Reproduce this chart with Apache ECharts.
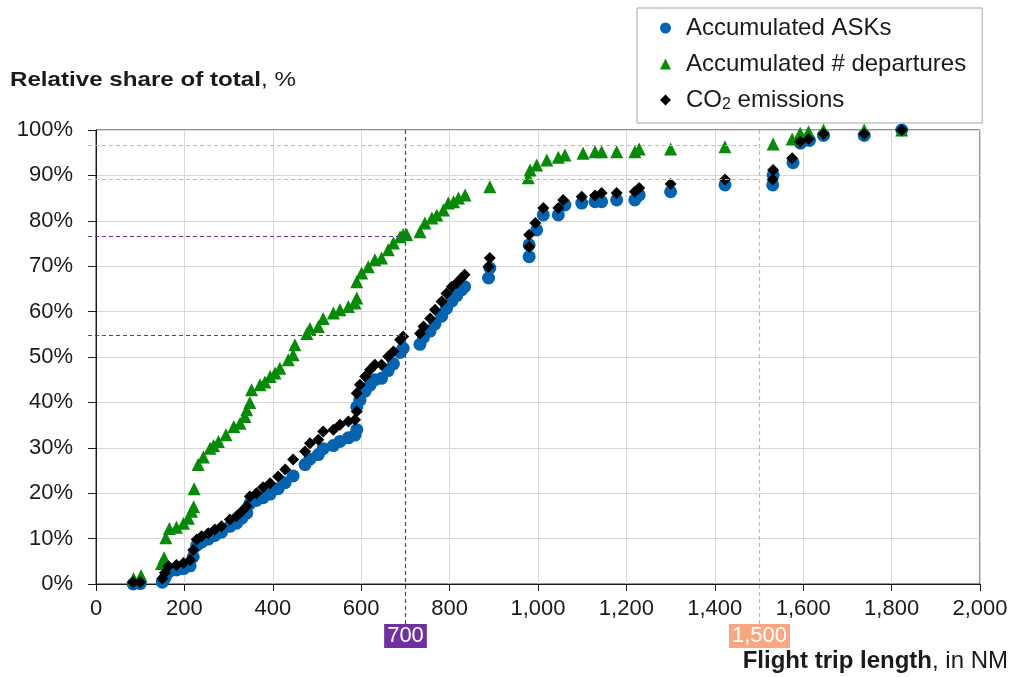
<!DOCTYPE html>
<html>
<head>
<meta charset="utf-8">
<script src="https://cdn.jsdelivr.net/npm/echarts@6/dist/echarts.min.js"></script>
<style>html,body{margin:0;padding:0;background:#fff}#c{width:1013px;height:677px}</style>
</head>
<body>
<div id="c"></div>
<script>
// Accumulated # departures [trip length NM, % of total]
const departures = [[85,1.2],[102,1.8],[148,4.5],[154,5.8],[158,10.2],[166,12.2],[182,12.5],[198,13.4],[209,14.5],[216,16],[221,17],[222,21],[231,26.3],[243,28],[258,29.9],[266,30.5],[277,31.4],[294,32.9],[312,34.7],[326,35.4],[337,36.9],[341,38.4],[348,40],[352,42.8],[371,43.9],[382,44.5],[394,45.7],[405,46.5],[416,47.5],[435,49.4],[446,50.5],[450,52.7],[477,55.2],[484,56.3],[503,56.7],[514,58.5],[537,59.7],[552,60.4],[571,61.1],[586,61.9],[590,63],[590,66.6],[601,68.5],[616,69.9],[631,71.4],[646,71.8],[661,73.6],[673,75.1],[688,76.5],[695,77],[703,77],[733,77.6],[744,79.5],[760,80.6],[771,81.3],[786,82.4],[797,83.9],[809,84.2],[820,85],[835,85.7],[891,87.5],[978,89.5],[982,91.2],[997,92.3],[1020,93.4],[1046,94],[1061,94.5],[1102,94.9],[1129,95.2],[1144,95.2],[1178,95.2],[1219,95.2],[1229,95.8],[1300,95.8],[1423,96.3],[1532,96.9],[1575,98],[1593,99.3],[1612,99.6],[1646,100],[1738,100],[1823,100]];
// CO2 emissions
const co2 = [[84,0.4],[100,0.4],[150,1.2],[156,2.5],[164,3.9],[182,4.2],[198,4.6],[213,5.3],[220,7.5],[228,9.8],[239,10.5],[254,11.2],[269,12],[284,12.7],[303,14.2],[318,14.9],[330,16],[341,17.1],[348,19.3],[363,20],[378,21.3],[394,22.2],[412,23.7],[428,25.2],[446,27.4],[473,29.2],[484,31],[503,31.8],[514,33.6],[537,34],[552,35.1],[571,35.8],[586,36.2],[590,38],[590,42],[597,43.9],[609,45.7],[620,47.2],[631,48.3],[646,48.3],[661,50.1],[673,51.2],[688,53.8],[695,54.5],[733,55.2],[741,56.7],[756,58.5],[767,60.4],[782,62.2],[793,64],[805,65.5],[816,66.3],[827,67.4],[834,68.1],[888,69.9],[891,71.8],[980,74.3],[980,76.9],[994,79.5],[1012,82.8],[1046,82.8],[1057,84.6],[1099,85.3],[1129,85.6],[1144,86.1],[1178,86.1],[1219,86.4],[1229,87.2],[1300,88.1],[1423,89.1],[1531,89.1],[1532,91.2],[1575,93.8],[1593,97.4],[1612,98],[1646,99.1],[1738,99.1],[1823,100]];
// Accumulated ASKs
const asks = [[84,0],[100,0.1],[150,0.4],[156,1.3],[164,2.6],[182,3.1],[198,3.4],[213,4],[220,6],[228,8.5],[239,9.2],[254,9.9],[269,10.7],[284,11.4],[303,12.7],[318,13.4],[330,14.5],[341,15.6],[348,17.7],[363,18.4],[378,19],[394,19.8],[412,21],[428,22.3],[446,23.8],[473,26.3],[484,27.5],[503,28.5],[514,29.8],[537,30.5],[552,31.4],[571,32.2],[586,32.8],[590,34],[590,39],[597,40.5],[609,42.5],[620,43.8],[631,45],[646,45.3],[661,47],[673,48.5],[688,51],[695,51.9],[733,52.8],[741,54.3],[756,55.7],[767,57.3],[782,59],[793,60.7],[805,62.3],[816,63.5],[827,64.8],[834,65.5],[888,67.4],[891,69.6],[980,72.1],[980,74.7],[997,78],[1012,81.3],[1046,81.3],[1061,83.5],[1099,83.9],[1129,84.2],[1144,84.2],[1178,84.6],[1219,84.6],[1229,85.7],[1300,86.4],[1423,87.9],[1531,87.9],[1532,90.1],[1577,92.8],[1594,97.1],[1614,97.7],[1646,98.8],[1738,98.8],[1823,100]];

const seriesNames = ['Accumulated ASKs', 'Accumulated # departures', 'CO2 emissions'];
// reference markers
const ref700 = {x: 700, label: '700', ys: [76.5, 54.8]};
const ref1500 = {x: 1500, label: '1,500', ys: [96.5, 89.2]};
const xTicks = {min: 0, max: 2000, interval: 200};
const yTicks = {min: 0, max: 100, interval: 10};

const FONT = 'Liberation Sans, Arial, sans-serif';
const chart = echarts.init(document.getElementById('c'));
const option = {
  animation: false,
  backgroundColor: '#fff',
  grid: {left: 96, right: 33, top: 130, bottom: 93, show: true, borderColor: '#262626', borderWidth: 1, backgroundColor: 'transparent'},
  legend: {
    orient: 'vertical', left: 637, top: 8,
    padding: [8, 16, 10, 23],
    itemGap: 12, itemWidth: 11, itemHeight: 11,
    borderColor: '#a6a6a6', borderWidth: 1, backgroundColor: '#fff',
    data: [
      {name: seriesNames[0], icon: 'circle'},
      {name: seriesNames[1], icon: 'triangle'},
      {name: seriesNames[2], icon: 'diamond'}
    ],
    textStyle: {fontFamily: FONT, fontSize: 24, color: '#1a1a1a', padding: [0, 0, 0, 10],
      rich: {a: {fontFamily: FONT, fontSize: 24, color: '#1a1a1a'}, s: {fontFamily: FONT, fontSize: 16, color: '#1a1a1a', padding: [10, 0, 0, 0]}}},
    formatter: n => n === 'CO2 emissions' ? '{a|CO}{s|2}{a| emissions}' : n
  },
  xAxis: {
    type: 'value', min: xTicks.min, max: xTicks.max, interval: xTicks.interval,
    axisLine: {show: true, lineStyle: {color: '#1a1a1a', width: 1}},
    axisTick: {show: true, inside: false, length: 7, lineStyle: {color: '#1a1a1a'}},
    splitLine: {show: true, lineStyle: {color: '#d9d9d9', width: 1}},
    axisLabel: {fontFamily: FONT, fontSize: 22, color: '#1a1a1a', margin: 14,
      formatter: v => v.toLocaleString('en-US')}
  },
  yAxis: {
    type: 'value', min: yTicks.min, max: yTicks.max, interval: yTicks.interval,
    axisLine: {show: true, lineStyle: {color: '#1a1a1a', width: 1}},
    axisTick: {show: true, inside: false, length: 8, lineStyle: {color: '#1a1a1a'}},
    splitLine: {show: true, lineStyle: {color: '#d9d9d9', width: 1}},
    axisLabel: {fontFamily: FONT, fontSize: 22, color: '#1a1a1a', margin: 23, formatter: '{value}%'}
  },
  series: [
    {name: seriesNames[0], type: 'scatter', data: asks, symbol: 'circle', symbolSize: 13, itemStyle: {color: '#0563b0', opacity: 1}, z: 2},
    {name: seriesNames[1], type: 'scatter', data: departures, symbol: 'triangle', symbolSize: 13, itemStyle: {color: '#078a07', opacity: 1}, z: 3},
    {name: seriesNames[2], type: 'scatter', data: co2, symbol: 'diamond', symbolSize: 12, itemStyle: {color: '#000', opacity: 1}, z: 4}
  ]
};
chart.setOption(option);

const P = (x, y) => chart.convertToPixel({gridIndex: 0}, [x, y]);
const snap = v => Math.round(v - 0.5) + 0.5;
function dashStyle(color) {
  return {stroke: color, fill: null, lineWidth: 1.2, lineDash: [4, 3], opacity: 1};
}
function refGraphics(ref, color, idp) {
  const els = [];
  const top = P(ref.x, yTicks.max);
  const bot = P(ref.x, yTicks.min);
  const vx = snap(top[0]);
  els.push({type: 'line', id: idp + 'v', silent: true, shape: {x1: vx, y1: top[1], x2: vx, y2: bot[1] + 40}, style: dashStyle(color), z: 50});
  ref.ys.forEach((v, i) => {
    const a = P(xTicks.min, v);
    const hy = snap(a[1]);
    els.push({type: 'line', id: idp + 'h' + i, silent: true, shape: {x1: a[0] - 8, y1: hy, x2: vx, y2: hy}, style: dashStyle(color), z: 50});
  });
  els.push({type: 'text', id: idp + 't', x: vx, y: bot[1] + 40, z: 60,
    style: {text: ref.label, fill: '#fff', font: '22px ' + FONT, align: 'center', verticalAlign: 'top',
      backgroundColor: color, padding: [1, 3, 1, 3]}});
  return els;
}
chart.setOption({
  graphic: [
    ...refGraphics(ref700, '#7030a0', 'a'),
    ...refGraphics(ref1500, '#f9a682', 'b'),
    {type: 'text', left: 10, top: 70, scaleX: 1.15,
      style: {text: '{b|Relative share of total}{n|, %}', rich: {b: {font: 'bold 21px ' + FONT, fill: '#1a1a1a'}, n: {font: '21px ' + FONT, fill: '#1a1a1a'}}}},
    {type: 'text', right: 5, top: 649,
      style: {text: '{b|Flight trip length}{n|, in NM}', rich: {b: {font: 'bold 24px ' + FONT, fill: '#1a1a1a'}, n: {font: '24px ' + FONT, fill: '#1a1a1a'}}}}
  ]
});
</script>
</body>
</html>
